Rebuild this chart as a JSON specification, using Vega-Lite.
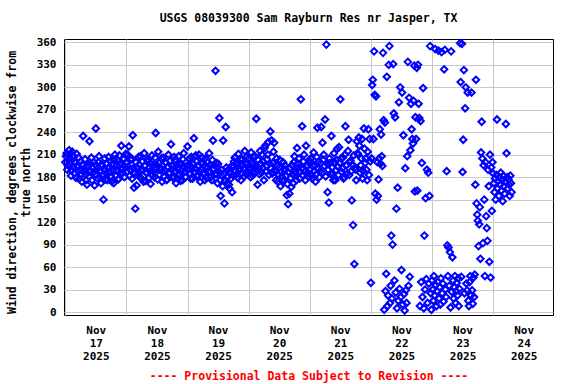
{
"$schema":"https://vega.github.io/schema/vega-lite/v6.json",
"width":489,"height":276,"autosize":"none",
"padding":{"left":64,"top":39,"right":23,"bottom":69},
"background":"white",
"title":{"text":"USGS 08039300 Sam Rayburn Res nr Jasper, TX","font":"DejaVu Sans Mono","fontSize":11.5,"fontWeight":"bold","color":"black","anchor":"middle","offset":11},
"config":{"view":{"stroke":"black","strokeWidth":1},
"axis":{"labelFont":"DejaVu Sans Mono","labelFontSize":11,"labelFontWeight":"bold","labelColor":"black","titleFont":"DejaVu Sans Mono","titleFontWeight":"bold","titleColor":"black","ticks":false,"tickSize":0,"domain":false,"grid":true,"gridColor":"#c8c8c8","gridWidth":1}},
"data":{"values":[
{"t":"2025-11-17T00:00","v":200},{"t":"2025-11-17T00:15","v":208},{"t":"2025-11-17T00:30","v":212},{"t":"2025-11-17T00:45","v":190},{"t":"2025-11-17T01:00","v":196},{"t":"2025-11-17T01:15","v":203},{"t":"2025-11-17T01:30","v":216},{"t":"2025-11-17T01:45","v":198},{"t":"2025-11-17T02:00","v":205},{"t":"2025-11-17T02:15","v":182},{"t":"2025-11-17T02:30","v":189},{"t":"2025-11-17T02:45","v":214},{"t":"2025-11-17T03:00","v":209},{"t":"2025-11-17T03:15","v":193},{"t":"2025-11-17T03:30","v":185},{"t":"2025-11-17T03:45","v":201},{"t":"2025-11-17T04:00","v":199},{"t":"2025-11-17T04:15","v":179},{"t":"2025-11-17T04:30","v":211},{"t":"2025-11-17T04:45","v":194},{"t":"2025-11-17T05:00","v":188},{"t":"2025-11-17T05:15","v":206},{"t":"2025-11-17T05:30","v":178},{"t":"2025-11-17T05:45","v":190},{"t":"2025-11-17T06:00","v":201},{"t":"2025-11-17T06:15","v":184},{"t":"2025-11-17T06:30","v":174},{"t":"2025-11-17T06:45","v":197},{"t":"2025-11-17T07:00","v":235},{"t":"2025-11-17T07:15","v":187},{"t":"2025-11-17T07:30","v":192},{"t":"2025-11-17T07:45","v":204},{"t":"2025-11-17T08:00","v":183},{"t":"2025-11-17T08:15","v":176},{"t":"2025-11-17T08:30","v":170},{"t":"2025-11-17T08:45","v":193},{"t":"2025-11-17T09:00","v":196},{"t":"2025-11-17T09:15","v":181},{"t":"2025-11-17T09:30","v":228},{"t":"2025-11-17T09:45","v":199},{"t":"2025-11-17T10:00","v":188},{"t":"2025-11-17T10:15","v":206},{"t":"2025-11-17T10:30","v":176},{"t":"2025-11-17T10:45","v":192},{"t":"2025-11-17T11:00","v":186},{"t":"2025-11-17T11:15","v":200},{"t":"2025-11-17T11:30","v":169},{"t":"2025-11-17T11:45","v":184},{"t":"2025-11-17T12:00","v":245},{"t":"2025-11-17T12:15","v":195},{"t":"2025-11-17T12:30","v":191},{"t":"2025-11-17T12:45","v":178},{"t":"2025-11-17T13:00","v":200},{"t":"2025-11-17T13:15","v":208},{"t":"2025-11-17T13:30","v":180},{"t":"2025-11-17T13:45","v":189},{"t":"2025-11-17T14:00","v":172},{"t":"2025-11-17T14:15","v":197},{"t":"2025-11-17T14:30","v":195},{"t":"2025-11-17T14:45","v":183},{"t":"2025-11-17T15:00","v":150},{"t":"2025-11-17T15:15","v":190},{"t":"2025-11-17T15:30","v":205},{"t":"2025-11-17T15:45","v":177},{"t":"2025-11-17T16:00","v":185},{"t":"2025-11-17T16:15","v":198},{"t":"2025-11-17T16:30","v":176},{"t":"2025-11-17T16:45","v":192},{"t":"2025-11-17T17:00","v":207},{"t":"2025-11-17T17:15","v":186},{"t":"2025-11-17T17:30","v":193},{"t":"2025-11-17T17:45","v":201},{"t":"2025-11-17T18:00","v":181},{"t":"2025-11-17T18:15","v":174},{"t":"2025-11-17T18:30","v":198},{"t":"2025-11-17T18:45","v":189},{"t":"2025-11-17T19:00","v":172},{"t":"2025-11-17T19:15","v":203},{"t":"2025-11-17T19:30","v":210},{"t":"2025-11-17T19:45","v":182},{"t":"2025-11-17T20:00","v":189},{"t":"2025-11-17T20:15","v":196},{"t":"2025-11-17T20:30","v":203},{"t":"2025-11-17T20:45","v":177},{"t":"2025-11-17T21:00","v":178},{"t":"2025-11-17T21:15","v":209},{"t":"2025-11-17T21:30","v":196},{"t":"2025-11-17T21:45","v":185},{"t":"2025-11-17T22:00","v":222},{"t":"2025-11-17T22:15","v":191},{"t":"2025-11-17T22:30","v":186},{"t":"2025-11-17T22:45","v":204},{"t":"2025-11-17T23:00","v":205},{"t":"2025-11-17T23:15","v":180},{"t":"2025-11-17T23:30","v":194},{"t":"2025-11-17T23:45","v":211},
{"t":"2025-11-18T00:00","v":199},{"t":"2025-11-18T00:15","v":187},{"t":"2025-11-18T00:30","v":210},{"t":"2025-11-18T00:45","v":194},{"t":"2025-11-18T01:00","v":221},{"t":"2025-11-18T01:15","v":182},{"t":"2025-11-18T01:30","v":190},{"t":"2025-11-18T01:45","v":203},{"t":"2025-11-18T02:00","v":205},{"t":"2025-11-18T02:15","v":178},{"t":"2025-11-18T02:30","v":236},{"t":"2025-11-18T02:45","v":192},{"t":"2025-11-18T03:00","v":166},{"t":"2025-11-18T03:15","v":185},{"t":"2025-11-18T03:30","v":138},{"t":"2025-11-18T03:45","v":200},{"t":"2025-11-18T04:00","v":169},{"t":"2025-11-18T04:15","v":193},{"t":"2025-11-18T04:30","v":184},{"t":"2025-11-18T04:45","v":207},{"t":"2025-11-18T05:00","v":197},{"t":"2025-11-18T05:15","v":180},{"t":"2025-11-18T05:30","v":208},{"t":"2025-11-18T05:45","v":189},{"t":"2025-11-18T06:00","v":178},{"t":"2025-11-18T06:15","v":201},{"t":"2025-11-18T06:30","v":190},{"t":"2025-11-18T06:45","v":174},{"t":"2025-11-18T07:00","v":212},{"t":"2025-11-18T07:15","v":195},{"t":"2025-11-18T07:30","v":175},{"t":"2025-11-18T07:45","v":186},{"t":"2025-11-18T08:00","v":186},{"t":"2025-11-18T08:15","v":204},{"t":"2025-11-18T08:30","v":201},{"t":"2025-11-18T08:45","v":179},{"t":"2025-11-18T09:00","v":193},{"t":"2025-11-18T09:15","v":188},{"t":"2025-11-18T09:30","v":171},{"t":"2025-11-18T09:45","v":198},{"t":"2025-11-18T10:00","v":209},{"t":"2025-11-18T10:15","v":183},{"t":"2025-11-18T10:30","v":188},{"t":"2025-11-18T10:45","v":196},{"t":"2025-11-18T11:00","v":180},{"t":"2025-11-18T11:15","v":206},{"t":"2025-11-18T11:30","v":239},{"t":"2025-11-18T11:45","v":191},{"t":"2025-11-18T12:00","v":196},{"t":"2025-11-18T12:15","v":177},{"t":"2025-11-18T12:30","v":214},{"t":"2025-11-18T12:45","v":199},{"t":"2025-11-18T13:00","v":183},{"t":"2025-11-18T13:15","v":190},{"t":"2025-11-18T13:30","v":192},{"t":"2025-11-18T13:45","v":205},{"t":"2025-11-18T14:00","v":174},{"t":"2025-11-18T14:15","v":187},{"t":"2025-11-18T14:30","v":206},{"t":"2025-11-18T14:45","v":181},{"t":"2025-11-18T15:00","v":189},{"t":"2025-11-18T15:15","v":200},{"t":"2025-11-18T15:30","v":199},{"t":"2025-11-18T15:45","v":176},{"t":"2025-11-18T16:00","v":177},{"t":"2025-11-18T16:15","v":194},{"t":"2025-11-18T16:30","v":210},{"t":"2025-11-18T16:45","v":185},{"t":"2025-11-18T17:00","v":186},{"t":"2025-11-18T17:15","v":202},{"t":"2025-11-18T17:30","v":224},{"t":"2025-11-18T17:45","v":190},{"t":"2025-11-18T18:00","v":195},{"t":"2025-11-18T18:15","v":179},{"t":"2025-11-18T18:30","v":181},{"t":"2025-11-18T18:45","v":207},{"t":"2025-11-18T19:00","v":203},{"t":"2025-11-18T19:15","v":188},{"t":"2025-11-18T19:30","v":172},{"t":"2025-11-18T19:45","v":196},{"t":"2025-11-18T20:00","v":191},{"t":"2025-11-18T20:15","v":183},{"t":"2025-11-18T20:30","v":208},{"t":"2025-11-18T20:45","v":198},{"t":"2025-11-18T21:00","v":184},{"t":"2025-11-18T21:15","v":175},{"t":"2025-11-18T21:30","v":197},{"t":"2025-11-18T21:45","v":189},{"t":"2025-11-18T22:00","v":176},{"t":"2025-11-18T22:15","v":204},{"t":"2025-11-18T22:30","v":212},{"t":"2025-11-18T22:45","v":193},{"t":"2025-11-18T23:00","v":188},{"t":"2025-11-18T23:15","v":180},{"t":"2025-11-18T23:30","v":200},{"t":"2025-11-18T23:45","v":195},
{"t":"2025-11-19T00:00","v":221},{"t":"2025-11-19T00:15","v":190},{"t":"2025-11-19T00:30","v":196},{"t":"2025-11-19T00:45","v":205},{"t":"2025-11-19T01:00","v":185},{"t":"2025-11-19T01:15","v":178},{"t":"2025-11-19T01:30","v":207},{"t":"2025-11-19T01:45","v":193},{"t":"2025-11-19T02:00","v":178},{"t":"2025-11-19T02:15","v":198},{"t":"2025-11-19T02:30","v":232},{"t":"2025-11-19T02:45","v":186},{"t":"2025-11-19T03:00","v":192},{"t":"2025-11-19T03:15","v":209},{"t":"2025-11-19T03:30","v":201},{"t":"2025-11-19T03:45","v":181},{"t":"2025-11-19T04:00","v":183},{"t":"2025-11-19T04:15","v":195},{"t":"2025-11-19T04:30","v":210},{"t":"2025-11-19T04:45","v":188},{"t":"2025-11-19T05:00","v":174},{"t":"2025-11-19T05:15","v":199},{"t":"2025-11-19T05:30","v":190},{"t":"2025-11-19T05:45","v":206},{"t":"2025-11-19T06:00","v":199},{"t":"2025-11-19T06:15","v":184},{"t":"2025-11-19T06:30","v":186},{"t":"2025-11-19T06:45","v":176},{"t":"2025-11-19T07:00","v":205},{"t":"2025-11-19T07:15","v":194},{"t":"2025-11-19T07:30","v":179},{"t":"2025-11-19T07:45","v":200},{"t":"2025-11-19T08:00","v":193},{"t":"2025-11-19T08:15","v":187},{"t":"2025-11-19T08:30","v":212},{"t":"2025-11-19T08:45","v":196},{"t":"2025-11-19T09:00","v":187},{"t":"2025-11-19T09:15","v":180},{"t":"2025-11-19T09:30","v":176},{"t":"2025-11-19T09:45","v":203},{"t":"2025-11-19T10:00","v":229},{"t":"2025-11-19T10:15","v":191},{"t":"2025-11-19T10:30","v":196},{"t":"2025-11-19T10:45","v":184},{"t":"2025-11-19T11:00","v":322},{"t":"2025-11-19T11:15","v":199},{"t":"2025-11-19T11:30","v":184},{"t":"2025-11-19T11:45","v":172},{"t":"2025-11-19T12:00","v":198},{"t":"2025-11-19T12:15","v":188},{"t":"2025-11-19T12:30","v":259},{"t":"2025-11-19T12:45","v":176},{"t":"2025-11-19T13:00","v":155},{"t":"2025-11-19T13:15","v":190},{"t":"2025-11-19T13:30","v":182},{"t":"2025-11-19T13:45","v":168},{"t":"2025-11-19T14:00","v":229},{"t":"2025-11-19T14:15","v":184},{"t":"2025-11-19T14:30","v":145},{"t":"2025-11-19T14:45","v":175},{"t":"2025-11-19T15:00","v":247},{"t":"2025-11-19T15:15","v":193},{"t":"2025-11-19T15:30","v":172},{"t":"2025-11-19T15:45","v":180},{"t":"2025-11-19T16:00","v":190},{"t":"2025-11-19T16:15","v":170},{"t":"2025-11-19T16:30","v":165},{"t":"2025-11-19T16:45","v":186},{"t":"2025-11-19T17:00","v":178},{"t":"2025-11-19T17:15","v":195},{"t":"2025-11-19T17:30","v":160},{"t":"2025-11-19T17:45","v":183},{"t":"2025-11-19T18:00","v":194},{"t":"2025-11-19T18:15","v":201},{"t":"2025-11-19T18:30","v":206},{"t":"2025-11-19T18:45","v":188},{"t":"2025-11-19T19:00","v":183},{"t":"2025-11-19T19:15","v":197},{"t":"2025-11-19T19:30","v":200},{"t":"2025-11-19T19:45","v":179},{"t":"2025-11-19T20:00","v":211},{"t":"2025-11-19T20:15","v":192},{"t":"2025-11-19T20:30","v":189},{"t":"2025-11-19T20:45","v":204},{"t":"2025-11-19T21:00","v":176},{"t":"2025-11-19T21:15","v":185},{"t":"2025-11-19T21:30","v":204},{"t":"2025-11-19T21:45","v":196},{"t":"2025-11-19T22:00","v":192},{"t":"2025-11-19T22:15","v":181},{"t":"2025-11-19T22:30","v":215},{"t":"2025-11-19T22:45","v":199},{"t":"2025-11-19T23:00","v":184},{"t":"2025-11-19T23:15","v":207},{"t":"2025-11-19T23:30","v":198},{"t":"2025-11-19T23:45","v":187},
{"t":"2025-11-20T00:00","v":205},{"t":"2025-11-20T00:15","v":193},{"t":"2025-11-20T00:30","v":190},{"t":"2025-11-20T00:45","v":180},{"t":"2025-11-20T01:00","v":213},{"t":"2025-11-20T01:15","v":199},{"t":"2025-11-20T01:30","v":182},{"t":"2025-11-20T01:45","v":207},{"t":"2025-11-20T02:00","v":197},{"t":"2025-11-20T02:15","v":186},{"t":"2025-11-20T02:30","v":208},{"t":"2025-11-20T02:45","v":194},{"t":"2025-11-20T03:00","v":258},{"t":"2025-11-20T03:15","v":189},{"t":"2025-11-20T03:30","v":170},{"t":"2025-11-20T03:45","v":203},{"t":"2025-11-20T04:00","v":192},{"t":"2025-11-20T04:15","v":184},{"t":"2025-11-20T04:30","v":215},{"t":"2025-11-20T04:45","v":198},{"t":"2025-11-20T05:00","v":186},{"t":"2025-11-20T05:15","v":210},{"t":"2025-11-20T05:30","v":201},{"t":"2025-11-20T05:45","v":192},{"t":"2025-11-20T06:00","v":176},{"t":"2025-11-20T06:15","v":219},{"t":"2025-11-20T06:30","v":222},{"t":"2025-11-20T06:45","v":188},{"t":"2025-11-20T07:00","v":195},{"t":"2025-11-20T07:15","v":204},{"t":"2025-11-20T07:30","v":210},{"t":"2025-11-20T07:45","v":227},{"t":"2025-11-20T08:00","v":183},{"t":"2025-11-20T08:15","v":198},{"t":"2025-11-20T08:30","v":241},{"t":"2025-11-20T08:45","v":192},{"t":"2025-11-20T09:00","v":229},{"t":"2025-11-20T09:15","v":185},{"t":"2025-11-20T09:30","v":199},{"t":"2025-11-20T09:45","v":214},{"t":"2025-11-20T10:00","v":226},{"t":"2025-11-20T10:15","v":190},{"t":"2025-11-20T10:30","v":187},{"t":"2025-11-20T10:45","v":176},{"t":"2025-11-20T11:00","v":205},{"t":"2025-11-20T11:15","v":195},{"t":"2025-11-20T11:30","v":174},{"t":"2025-11-20T11:45","v":183},{"t":"2025-11-20T12:00","v":193},{"t":"2025-11-20T12:15","v":203},{"t":"2025-11-20T12:30","v":168},{"t":"2025-11-20T12:45","v":187},{"t":"2025-11-20T13:00","v":181},{"t":"2025-11-20T13:15","v":175},{"t":"2025-11-20T13:30","v":200},{"t":"2025-11-20T13:45","v":190},{"t":"2025-11-20T14:00","v":176},{"t":"2025-11-20T14:15","v":196},{"t":"2025-11-20T14:30","v":190},{"t":"2025-11-20T14:45","v":182},{"t":"2025-11-20T15:00","v":156},{"t":"2025-11-20T15:15","v":171},{"t":"2025-11-20T15:30","v":144},{"t":"2025-11-20T15:45","v":186},{"t":"2025-11-20T16:00","v":158},{"t":"2025-11-20T16:15","v":192},{"t":"2025-11-20T16:30","v":179},{"t":"2025-11-20T16:45","v":167},{"t":"2025-11-20T17:00","v":196},{"t":"2025-11-20T17:15","v":184},{"t":"2025-11-20T17:30","v":172},{"t":"2025-11-20T17:45","v":200},{"t":"2025-11-20T18:00","v":208},{"t":"2025-11-20T18:15","v":188},{"t":"2025-11-20T18:30","v":185},{"t":"2025-11-20T18:45","v":176},{"t":"2025-11-20T19:00","v":219},{"t":"2025-11-20T19:15","v":198},{"t":"2025-11-20T19:30","v":193},{"t":"2025-11-20T19:45","v":205},{"t":"2025-11-20T20:00","v":178},{"t":"2025-11-20T20:15","v":187},{"t":"2025-11-20T20:30","v":284},{"t":"2025-11-20T20:45","v":192},{"t":"2025-11-20T21:00","v":248},{"t":"2025-11-20T21:15","v":183},{"t":"2025-11-20T21:30","v":201},{"t":"2025-11-20T21:45","v":210},{"t":"2025-11-20T22:00","v":187},{"t":"2025-11-20T22:15","v":176},{"t":"2025-11-20T22:30","v":222},{"t":"2025-11-20T22:45","v":194},{"t":"2025-11-20T23:00","v":196},{"t":"2025-11-20T23:15","v":186},{"t":"2025-11-20T23:30","v":181},{"t":"2025-11-20T23:45","v":203},
{"t":"2025-11-21T00:00","v":190},{"t":"2025-11-21T00:15","v":201},{"t":"2025-11-21T00:30","v":205},{"t":"2025-11-21T00:45","v":182},{"t":"2025-11-21T01:00","v":178},{"t":"2025-11-21T01:15","v":195},{"t":"2025-11-21T01:30","v":213},{"t":"2025-11-21T01:45","v":188},{"t":"2025-11-21T02:00","v":196},{"t":"2025-11-21T02:15","v":174},{"t":"2025-11-21T02:30","v":184},{"t":"2025-11-21T02:45","v":207},{"t":"2025-11-21T03:00","v":246},{"t":"2025-11-21T03:15","v":191},{"t":"2025-11-21T03:30","v":201},{"t":"2025-11-21T03:45","v":180},{"t":"2025-11-21T04:00","v":188},{"t":"2025-11-21T04:15","v":199},{"t":"2025-11-21T04:30","v":247},{"t":"2025-11-21T04:45","v":186},{"t":"2025-11-21T05:00","v":226},{"t":"2025-11-21T05:15","v":203},{"t":"2025-11-21T05:30","v":210},{"t":"2025-11-21T05:45","v":195},{"t":"2025-11-21T06:00","v":257},{"t":"2025-11-21T06:15","v":181},{"t":"2025-11-21T06:30","v":357},{"t":"2025-11-21T06:45","v":198},{"t":"2025-11-21T07:00","v":160},{"t":"2025-11-21T07:15","v":190},{"t":"2025-11-21T07:30","v":146},{"t":"2025-11-21T07:45","v":205},{"t":"2025-11-21T08:00","v":199},{"t":"2025-11-21T08:15","v":184},{"t":"2025-11-21T08:30","v":235},{"t":"2025-11-21T08:45","v":193},{"t":"2025-11-21T09:00","v":185},{"t":"2025-11-21T09:15","v":176},{"t":"2025-11-21T09:30","v":212},{"t":"2025-11-21T09:45","v":200},{"t":"2025-11-21T10:00","v":176},{"t":"2025-11-21T10:15","v":189},{"t":"2025-11-21T10:30","v":203},{"t":"2025-11-21T10:45","v":218},{"t":"2025-11-21T11:00","v":194},{"t":"2025-11-21T11:15","v":183},{"t":"2025-11-21T11:30","v":220},{"t":"2025-11-21T11:45","v":199},{"t":"2025-11-21T12:00","v":284},{"t":"2025-11-21T12:15","v":205},{"t":"2025-11-21T12:30","v":187},{"t":"2025-11-21T12:45","v":192},{"t":"2025-11-21T13:00","v":206},{"t":"2025-11-21T13:15","v":178},{"t":"2025-11-21T13:30","v":180},{"t":"2025-11-21T13:45","v":210},{"t":"2025-11-21T14:00","v":248},{"t":"2025-11-21T14:15","v":196},{"t":"2025-11-21T14:30","v":196},{"t":"2025-11-21T14:45","v":185},{"t":"2025-11-21T15:00","v":215},{"t":"2025-11-21T15:15","v":230},{"t":"2025-11-21T15:30","v":183},{"t":"2025-11-21T15:45","v":200},{"t":"2025-11-21T16:00","v":202},{"t":"2025-11-21T16:15","v":188},{"t":"2025-11-21T16:30","v":149},{"t":"2025-11-21T16:45","v":197},{"t":"2025-11-21T17:00","v":116},{"t":"2025-11-21T17:15","v":209},{"t":"2025-11-21T17:30","v":64},{"t":"2025-11-21T17:45","v":193},{"t":"2025-11-21T18:00","v":190},{"t":"2025-11-21T18:15","v":176},{"t":"2025-11-21T18:30","v":228},{"t":"2025-11-21T18:45","v":212},{"t":"2025-11-21T19:00","v":210},{"t":"2025-11-21T19:15","v":233},{"t":"2025-11-21T19:30","v":222},{"t":"2025-11-21T19:45","v":186},{"t":"2025-11-21T20:00","v":196},{"t":"2025-11-21T20:15","v":205},{"t":"2025-11-21T20:30","v":231},{"t":"2025-11-21T20:45","v":178},{"t":"2025-11-21T21:00","v":188},{"t":"2025-11-21T21:15","v":245},{"t":"2025-11-21T21:30","v":218},{"t":"2025-11-21T21:45","v":199},{"t":"2025-11-21T22:00","v":205},{"t":"2025-11-21T22:15","v":190},{"t":"2025-11-21T22:30","v":176},{"t":"2025-11-21T22:45","v":214},{"t":"2025-11-21T23:00","v":244},{"t":"2025-11-21T23:15","v":183},{"t":"2025-11-21T23:30","v":231},{"t":"2025-11-21T23:45","v":201},
{"t":"2025-11-22T00:00","v":39},{"t":"2025-11-22T00:15","v":205},{"t":"2025-11-22T00:30","v":303},{"t":"2025-11-22T00:45","v":310},{"t":"2025-11-22T01:00","v":231},{"t":"2025-11-22T01:15","v":348},{"t":"2025-11-22T01:30","v":290},{"t":"2025-11-22T01:45","v":158},{"t":"2025-11-22T02:00","v":288},{"t":"2025-11-22T02:15","v":150},{"t":"2025-11-22T02:30","v":200},{"t":"2025-11-22T02:45","v":155},{"t":"2025-11-22T03:00","v":177},{"t":"2025-11-22T03:15","v":205},{"t":"2025-11-22T03:30","v":244},{"t":"2025-11-22T03:45","v":198},{"t":"2025-11-22T04:00","v":237},{"t":"2025-11-22T04:15","v":208},{"t":"2025-11-22T04:30","v":195},{"t":"2025-11-22T04:45","v":346},{"t":"2025-11-22T05:00","v":256},{"t":"2025-11-22T05:15","v":3},{"t":"2025-11-22T05:30","v":253},{"t":"2025-11-22T05:45","v":28},{"t":"2025-11-22T06:00","v":51},{"t":"2025-11-22T06:15","v":314},{"t":"2025-11-22T06:30","v":8},{"t":"2025-11-22T06:45","v":22},{"t":"2025-11-22T07:00","v":330},{"t":"2025-11-22T07:15","v":355},{"t":"2025-11-22T07:30","v":12},{"t":"2025-11-22T07:45","v":35},{"t":"2025-11-22T08:00","v":102},{"t":"2025-11-22T08:15","v":18},{"t":"2025-11-22T08:30","v":90},{"t":"2025-11-22T08:45","v":331},{"t":"2025-11-22T09:00","v":265},{"t":"2025-11-22T09:15","v":42},{"t":"2025-11-22T09:30","v":260},{"t":"2025-11-22T09:45","v":26},{"t":"2025-11-22T10:00","v":138},{"t":"2025-11-22T10:15","v":5},{"t":"2025-11-22T10:30","v":166},{"t":"2025-11-22T10:45","v":15},{"t":"2025-11-22T11:00","v":280},{"t":"2025-11-22T11:15","v":31},{"t":"2025-11-22T11:30","v":300},{"t":"2025-11-22T11:45","v":20},{"t":"2025-11-22T12:00","v":56},{"t":"2025-11-22T12:15","v":293},{"t":"2025-11-22T12:30","v":10},{"t":"2025-11-22T12:45","v":236},{"t":"2025-11-22T13:00","v":24},{"t":"2025-11-22T13:15","v":2},{"t":"2025-11-22T13:30","v":192},{"t":"2025-11-22T13:45","v":29},{"t":"2025-11-22T14:00","v":12},{"t":"2025-11-22T14:15","v":208},{"t":"2025-11-22T14:30","v":334},{"t":"2025-11-22T14:45","v":35},{"t":"2025-11-22T15:00","v":286},{"t":"2025-11-22T15:15","v":47},{"t":"2025-11-22T15:30","v":216},{"t":"2025-11-22T15:45","v":278},{"t":"2025-11-22T16:00","v":244},{"t":"2025-11-22T16:15","v":231},{"t":"2025-11-22T16:30","v":225},{"t":"2025-11-22T16:45","v":282},{"t":"2025-11-22T17:00","v":329},{"t":"2025-11-22T17:15","v":161},{"t":"2025-11-22T17:30","v":260},{"t":"2025-11-22T17:45","v":231},{"t":"2025-11-22T18:00","v":326},{"t":"2025-11-22T18:15","v":162},{"t":"2025-11-22T18:30","v":330},{"t":"2025-11-22T18:45","v":278},{"t":"2025-11-22T19:00","v":259},{"t":"2025-11-22T19:15","v":8},{"t":"2025-11-22T19:30","v":255},{"t":"2025-11-22T19:45","v":40},{"t":"2025-11-22T20:00","v":199},{"t":"2025-11-22T20:15","v":20},{"t":"2025-11-22T20:30","v":299},{"t":"2025-11-22T20:45","v":5},{"t":"2025-11-22T21:00","v":102},{"t":"2025-11-22T21:15","v":30},{"t":"2025-11-22T21:30","v":152},{"t":"2025-11-22T21:45","v":44},{"t":"2025-11-22T22:00","v":190},{"t":"2025-11-22T22:15","v":12},{"t":"2025-11-22T22:30","v":186},{"t":"2025-11-22T22:45","v":38},{"t":"2025-11-22T23:00","v":155},{"t":"2025-11-22T23:15","v":355},{"t":"2025-11-22T23:30","v":25},{"t":"2025-11-22T23:45","v":3},
{"t":"2025-11-23T00:00","v":42},{"t":"2025-11-23T00:15","v":30},{"t":"2025-11-23T00:30","v":15},{"t":"2025-11-23T00:45","v":48},{"t":"2025-11-23T01:00","v":22},{"t":"2025-11-23T01:15","v":351},{"t":"2025-11-23T01:30","v":36},{"t":"2025-11-23T01:45","v":8},{"t":"2025-11-23T02:00","v":28},{"t":"2025-11-23T02:15","v":40},{"t":"2025-11-23T02:30","v":349},{"t":"2025-11-23T02:45","v":18},{"t":"2025-11-23T03:00","v":33},{"t":"2025-11-23T03:15","v":10},{"t":"2025-11-23T03:30","v":45},{"t":"2025-11-23T03:45","v":347},{"t":"2025-11-23T04:00","v":25},{"t":"2025-11-23T04:15","v":38},{"t":"2025-11-23T04:30","v":14},{"t":"2025-11-23T04:45","v":324},{"t":"2025-11-23T05:00","v":350},{"t":"2025-11-23T05:15","v":30},{"t":"2025-11-23T05:30","v":20},{"t":"2025-11-23T05:45","v":188},{"t":"2025-11-23T06:00","v":89},{"t":"2025-11-23T06:15","v":48},{"t":"2025-11-23T06:30","v":86},{"t":"2025-11-23T06:45","v":35},{"t":"2025-11-23T07:00","v":80},{"t":"2025-11-23T07:15","v":6},{"t":"2025-11-23T07:30","v":348},{"t":"2025-11-23T07:45","v":27},{"t":"2025-11-23T08:00","v":73},{"t":"2025-11-23T08:15","v":42},{"t":"2025-11-23T08:30","v":18},{"t":"2025-11-23T08:45","v":33},{"t":"2025-11-23T09:00","v":48},{"t":"2025-11-23T09:15","v":12},{"t":"2025-11-23T09:30","v":28},{"t":"2025-11-23T09:45","v":39},{"t":"2025-11-23T10:00","v":22},{"t":"2025-11-23T10:15","v":45},{"t":"2025-11-23T10:30","v":8},{"t":"2025-11-23T10:45","v":31},{"t":"2025-11-23T11:00","v":359},{"t":"2025-11-23T11:15","v":307},{"t":"2025-11-23T11:30","v":47},{"t":"2025-11-23T11:45","v":358},{"t":"2025-11-23T12:00","v":187},{"t":"2025-11-23T12:15","v":230},{"t":"2025-11-23T12:30","v":323},{"t":"2025-11-23T12:45","v":25},{"t":"2025-11-23T13:00","v":272},{"t":"2025-11-23T13:15","v":300},{"t":"2025-11-23T13:30","v":38},{"t":"2025-11-23T13:45","v":29},{"t":"2025-11-23T14:00","v":293},{"t":"2025-11-23T14:15","v":15},{"t":"2025-11-23T14:30","v":8},{"t":"2025-11-23T14:45","v":40},{"t":"2025-11-23T15:00","v":48},{"t":"2025-11-23T15:15","v":22},{"t":"2025-11-23T15:30","v":293},{"t":"2025-11-23T15:45","v":29},{"t":"2025-11-23T16:00","v":11},{"t":"2025-11-23T16:15","v":46},{"t":"2025-11-23T16:30","v":20},{"t":"2025-11-23T16:45","v":50},{"t":"2025-11-23T17:00","v":170},{"t":"2025-11-23T17:15","v":310},{"t":"2025-11-23T17:30","v":145},{"t":"2025-11-23T17:45","v":130},{"t":"2025-11-23T18:00","v":122},{"t":"2025-11-23T18:15","v":88},{"t":"2025-11-23T18:30","v":117},{"t":"2025-11-23T18:45","v":140},{"t":"2025-11-23T19:00","v":71},{"t":"2025-11-23T19:15","v":213},{"t":"2025-11-23T19:30","v":254},{"t":"2025-11-23T19:45","v":205},{"t":"2025-11-23T20:00","v":92},{"t":"2025-11-23T20:15","v":196},{"t":"2025-11-23T20:30","v":150},{"t":"2025-11-23T20:45","v":48},{"t":"2025-11-23T21:00","v":200},{"t":"2025-11-23T21:15","v":128},{"t":"2025-11-23T21:30","v":112},{"t":"2025-11-23T21:45","v":95},{"t":"2025-11-23T22:00","v":190},{"t":"2025-11-23T22:15","v":168},{"t":"2025-11-23T22:30","v":67},{"t":"2025-11-23T22:45","v":210},{"t":"2025-11-23T23:00","v":46},{"t":"2025-11-23T23:15","v":193},{"t":"2025-11-23T23:30","v":135},{"t":"2025-11-23T23:45","v":200},
{"t":"2025-11-24T00:00","v":185},{"t":"2025-11-24T00:15","v":172},{"t":"2025-11-24T00:30","v":160},{"t":"2025-11-24T00:45","v":178},{"t":"2025-11-24T01:00","v":150},{"t":"2025-11-24T01:15","v":183},{"t":"2025-11-24T01:30","v":257},{"t":"2025-11-24T01:45","v":165},{"t":"2025-11-24T02:00","v":175},{"t":"2025-11-24T02:15","v":155},{"t":"2025-11-24T02:30","v":180},{"t":"2025-11-24T02:45","v":170},{"t":"2025-11-24T03:00","v":186},{"t":"2025-11-24T03:15","v":162},{"t":"2025-11-24T03:30","v":176},{"t":"2025-11-24T03:45","v":148},{"t":"2025-11-24T04:00","v":182},{"t":"2025-11-24T04:15","v":168},{"t":"2025-11-24T04:30","v":158},{"t":"2025-11-24T04:45","v":174},{"t":"2025-11-24T05:00","v":251},{"t":"2025-11-24T05:15","v":212},{"t":"2025-11-24T05:30","v":180},{"t":"2025-11-24T05:45","v":165},{"t":"2025-11-24T06:00","v":177},{"t":"2025-11-24T06:15","v":170},{"t":"2025-11-24T06:30","v":155},{"t":"2025-11-24T06:45","v":182},{"t":"2025-11-24T07:00","v":172},{"t":"2025-11-24T07:15","v":160}
]},
"mark":{"type":"point","shape":"diamond","filled":false,"color":"#0000ff","strokeWidth":2,"size":42,"opacity":1},
"encoding":{
"x":{"field":"t","type":"temporal",
"scale":{"domain":[{"year":2025,"month":11,"date":16,"hours":23,"minutes":30},{"year":2025,"month":11,"date":24,"hours":23,"minutes":30}]},
"axis":{"values":[{"year":2025,"month":11,"date":17},{"year":2025,"month":11,"date":18},{"year":2025,"month":11,"date":19},{"year":2025,"month":11,"date":20},{"year":2025,"month":11,"date":21},{"year":2025,"month":11,"date":22},{"year":2025,"month":11,"date":23},{"year":2025,"month":11,"date":24}],
"labelExpr":"[timeFormat(datum.value,'%b'),timeFormat(datum.value,'%d'),timeFormat(datum.value,'%Y')]",
"labelOffset":30.5,"labelLineHeight":13,"labelPadding":9,"labelFlush":false,"labelOverlap":false,"labelBound":false,"labelAngle":0,
"title":"---- Provisional Data Subject to Revision ----","titleColor":"#ff0000","titleFontSize":11.5,"titlePadding":9}},
"y":{"field":"v","type":"quantitative",
"scale":{"domain":[-4,364.5],"nice":false,"zero":false},
"axis":{"values":[0,30,60,90,120,150,180,210,240,270,300,330,360],"labelPadding":8,
"title":["Wind direction, degrees clockwise from","true north"],"titleFontSize":11.5,"titleLineHeight":14,"titlePadding":5,"titleY":143}}
}
}
